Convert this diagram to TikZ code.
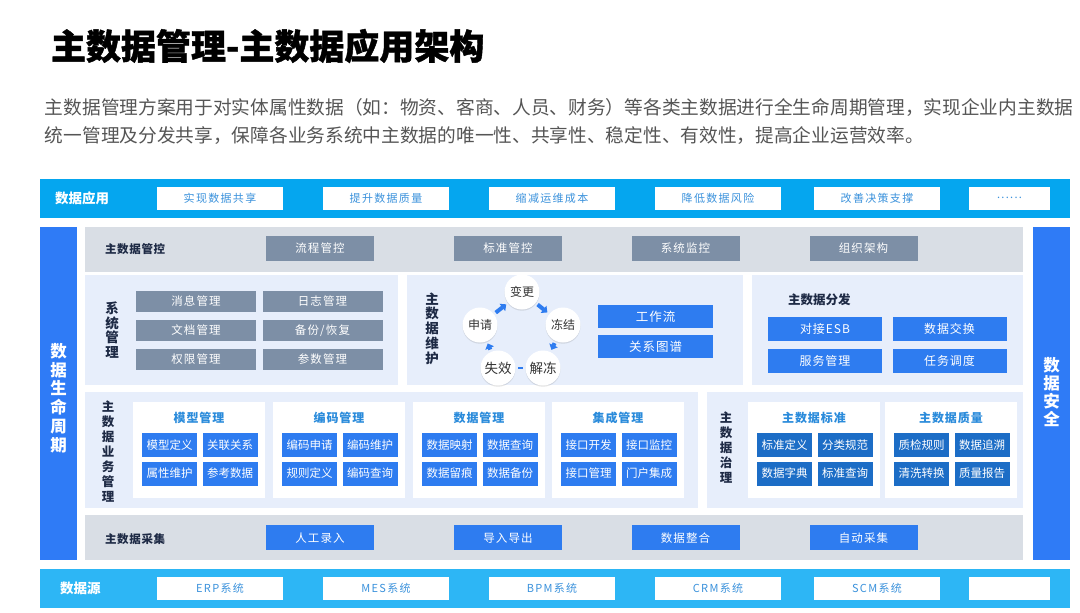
\documentclass[tikz,border=0pt]{standalone}
\usepackage{fontspec}
\setmainfont{Noto Sans CJK SC}
\usetikzlibrary{arrows.meta,shadows,calc}
\definecolor{bandA}{HTML}{05A6EF}
\definecolor{bandB}{HTML}{2DB6F5}
\definecolor{sideblue}{HTML}{2F7BF6}
\definecolor{grayrow}{HTML}{D9DEE5}
\definecolor{graybox}{HTML}{7D8FA6}
\definecolor{lightpanel}{HTML}{E7EEFB}
\definecolor{btnblue}{HTML}{2E7CF0}
\definecolor{govblue}{HTML}{1C6DC6}
\definecolor{darktxt}{HTML}{1E2A45}
\definecolor{subttlc}{HTML}{2A8BDB}
\definecolor{bandtxt}{HTML}{3B92DC}
\definecolor{paratxt}{HTML}{555555}
\definecolor{cyctxt}{HTML}{333333}
\newcommand\mydotstxt{......}
\begin{document}
\begin{tikzpicture}[x=1pt,y=-1pt,
  every node/.style={inner sep=0pt, outer sep=0pt},
  panelfill/.style={fill=#1, draw=none},
  bandlbl/.style={text=white, font=\fontsize{13.5}{14}\selectfont\bfseries, anchor=west},
  wbox/.style={fill=white, minimum height=22.5pt, text=bandtxt, font=\fontsize{11}{11}\selectfont\addfontfeature{LetterSpace=12}},
  graybtn/.style={fill=graybox, minimum width=108pt, minimum height=24.5pt, text=white, font=\fontsize{11.5}{12}\selectfont\addfontfeature{LetterSpace=10}},
  sysbtn/.style={fill=graybox, minimum width=120pt, minimum height=21pt, text=white, font=\fontsize{11.5}{12}\selectfont\addfontfeature{LetterSpace=10}},
  colbtn/.style={fill=btnblue, minimum width=108pt, minimum height=25pt, text=white, font=\fontsize{11.5}{12}\selectfont\addfontfeature{LetterSpace=10}},
  distbtn/.style={fill=btnblue, minimum width=114pt, minimum height=24pt, text=white, font=\fontsize{12}{12}\selectfont\addfontfeature{LetterSpace=8}},
  wfbtn/.style={fill=btnblue, minimum width=115pt, minimum height=23pt, text=white, font=\fontsize{12.5}{13}\selectfont\addfontfeature{LetterSpace=8}},
  bizbtn/.style={fill=btnblue, minimum width=55pt, minimum height=24pt, text=white, font=\fontsize{11.5}{12}\selectfont},
  govbtn/.style={fill=govblue, minimum width=55pt, minimum height=24pt, text=white, font=\fontsize{11.5}{12}\selectfont},
  subpanel/.style={fill=white, minimum width=132pt, minimum height=96pt},
  subttl/.style={text=subttlc, font=\fontsize{12}{12}\selectfont\bfseries\addfontfeature{LetterSpace=8}},
  darklbl/.style={text=darktxt, font=\fontsize{11.5}{12}\selectfont\bfseries\addfontfeature{LetterSpace=6}},
  vlbl/.style={text=darktxt, align=center, font=\fontsize{#1}{14.8}\selectfont\bfseries},
  sidelbl/.style={text=white, align=center, font=\fontsize{16.5}{18.8}\selectfont\bfseries},
  cyc/.style={circle, fill=white, minimum size=35pt, text=cyctxt, font=\fontsize{12}{12}\selectfont,
    drop shadow={shadow xshift=0pt, shadow yshift=-1.2pt, opacity=0.18, fill=black!60}},
  cycbig/.style={cyc, font=\fontsize{13.5}{13.5}\selectfont},
  cycarr/.style={draw=btnblue, line width=4pt, -{Triangle[length=5pt,width=9pt]}, shorten <=2.5pt, shorten >=2.5pt},
  cycdash/.style={draw=btnblue, line width=2.4pt, shorten <=2.5pt, shorten >=2.5pt}
]
\useasboundingbox[fill=white] (0,0) rectangle (1080,613);

% title and intro
\node[anchor=west, font=\fontsize{35}{35}\selectfont\bfseries\addfontfeature{FakeBold=1.2}, text=black] (title) at (51,46) {主数据管理-主数据应用架构};
\node[anchor=west, font=\fontsize{18.7}{20}\selectfont, text=paratxt] (para1) at (45,107) {主数据管理方案用于对实体属性数据（如：物资、客商、人员、财务）等各类主数据进行全生命周期管理，实现企业内主数据};
\node[anchor=west, font=\fontsize{18.7}{20}\selectfont, text=paratxt] (para2) at (45,136) {统一管理及分发共享，保障各业务系统中主数据的唯一性、共享性、稳定性、有效性，提高企业运营效率。};

% top band
\node[panelfill=bandA, minimum width=1030pt, minimum height=39pt] (appband) at (555,198.5) {};
\node[bandlbl] (applbl) at (55,198.5) {数据应用};
\foreach \x/\w/\t [count=\i] in {220/126/实现数据共享, 386/126/提升数据质量, 552/126/缩减运维成本, 718/126/降低数据风险, 877/126/改善决策支撑, 1009.5/81/\mydotstxt}
  \node[wbox, minimum width=\w pt] (app\i) at (\x,198.25) {\t};

% bottom band
\node[panelfill=bandB, minimum width=1030pt, minimum height=39pt] (srcband) at (555,588.5) {};
\node[bandlbl] (srclbl) at (60,588.5) {数据源};
\foreach \x/\w/\t [count=\i] in {220/126/ERP系统, 386/126/MES系统, 552/126/BPM系统, 718/126/CRM系统, 877/126/SCM系统, 1009.5/81/{}}
  \node[wbox, minimum width=\w pt] (src\i) at (\x,588.5) {\t};

% side columns
\node[panelfill=sideblue, minimum width=37pt, minimum height=333pt] (leftcol) at (58.5,393.5) {};
\node[sidelbl] (leftlbl) at (58.5,398) {数\\据\\生\\命\\周\\期};
\node[panelfill=sideblue, minimum width=37pt, minimum height=333pt] (rightcol) at (1051.5,393.5) {};
\node[sidelbl, font=\fontsize{16.5}{18}\selectfont\bfseries] (rightlbl) at (1051.5,392) {数\\据\\安\\全};

% control row
\node[panelfill=grayrow, minimum width=938pt, minimum height=44.5pt] (ctrlrow) at (554,249.25) {};
\node[darklbl, anchor=west] (ctrllbl) at (105,249) {主数据管控};
\foreach \x/\t [count=\i] in {320/流程管控, 508/标准管控, 685.5/系统监控, 863.5/组织架构}
  \node[graybtn] (ctrl\i) at (\x,248.25) {\t};

% system management panel
\node[panelfill=lightpanel, minimum width=313pt, minimum height=110pt] (syspanel) at (241.5,330) {};
\node[vlbl=13.5] (syslbl) at (112,330) {系\\统\\管\\理};
\node[sysbtn] (sys1) at (196,301.5) {消息管理};
\node[sysbtn] (sys2) at (322.5,301.5) {日志管理};
\node[sysbtn] (sys3) at (196,330.5) {文档管理};
\node[sysbtn] (sys4) at (322.5,330.5) {备份/恢复};
\node[sysbtn] (sys5) at (196,359.5) {权限管理};
\node[sysbtn] (sys6) at (322.5,359.5) {参数管理};

% master data maintenance panel
\node[panelfill=lightpanel, minimum width=336pt, minimum height=110pt] (mtpanel) at (575,330) {};
\node[vlbl=13.5] (mtlbl) at (432,328.5) {主\\数\\据\\维\\护};
\node[cyc] (bg) at (522,292) {变更};
\node[cyc] (sq) at (480,325) {申请};
\node[cyc] (dj) at (563,325) {冻结};
\node[cycbig] (sx) at (498,368) {失效};
\node[cycbig] (jd) at (543,368) {解冻};
\draw[cycarr] (sq) -- (bg);
\draw[cycarr] (bg) -- (dj);
\draw[cycarr] (dj) -- (jd);
\draw[cycarr] (sx) -- (sq);
\draw[cycdash] (sx) -- (jd);
\node[wfbtn] (wf) at (655.5,316.5) {工作流};
\node[wfbtn] (gp) at (655.5,346.5) {关系图谱};

% distribution panel
\node[panelfill=lightpanel, minimum width=271pt, minimum height=110pt] (distpanel) at (887.5,330) {};
\node[darklbl, anchor=west, font=\fontsize{12.5}{13}\selectfont\bfseries] (distlbl) at (788,300) {主数据分发};
\node[distbtn] (dist1) at (825,329) {对接ESB};
\node[distbtn] (dist2) at (949.5,329) {数据交换};
\node[distbtn] (dist3) at (825,360.5) {服务管理};
\node[distbtn] (dist4) at (949.5,360.5) {任务调度};

% business management panel
\node[panelfill=lightpanel, minimum width=613pt, minimum height=116pt] (bizpanel) at (391.5,450) {};
\node[vlbl=12.5, font=\fontsize{12.5}{15}\selectfont\bfseries] (bizlbl) at (108,452) {主\\数\\据\\业\\务\\管\\理};
% governance panel
\node[panelfill=lightpanel, minimum width=316pt, minimum height=116pt] (govpanel) at (865,450) {};
\node[vlbl=12.5] (govlbl) at (726,447.5) {主\\数\\据\\治\\理};

\foreach \nm/\cx/\t/\a/\b/\c/\d/\sty in {
  mx/199/模型管理/模型定义/关联关系/属性维护/参考数据/bizbtn,
  bm/339/编码管理/编码申请/编码维护/规则定义/编码查询/bizbtn,
  sj/479/数据管理/数据映射/数据查询/数据留痕/数据备份/bizbtn,
  jc/618/集成管理/接口开发/接口监控/接口管理/门户集成/bizbtn,
  bz/814/主数据标准/标准定义/分类规范/数据字典/标准查询/govbtn,
  zl/951/主数据质量/质检规则/数据追溯/清洗转换/质量报告/govbtn}{
  \node[subpanel] (\nm) at (\cx,450) {};
  \node[subttl] (\nm-t) at (\cx,418) {\t};
  \node[\sty] (\nm-a) at ({\cx-29.5},445) {\a};
  \node[\sty] (\nm-b) at ({\cx+31},445) {\b};
  \node[\sty] (\nm-c) at ({\cx-29.5},473.5) {\c};
  \node[\sty] (\nm-d) at ({\cx+31},473.5) {\d};
}

% collection row
\node[panelfill=grayrow, minimum width=938pt, minimum height=45pt] (colrow) at (554,537.5) {};
\node[darklbl, anchor=west] (collbl) at (105,539.5) {主数据采集};
\foreach \x/\t [count=\i] in {320/人工录入, 508/导入导出, 685.5/数据整合, 863.5/自动采集}
  \node[colbtn] (col\i) at (\x,537.75) {\t};
\end{tikzpicture}
\end{document}
